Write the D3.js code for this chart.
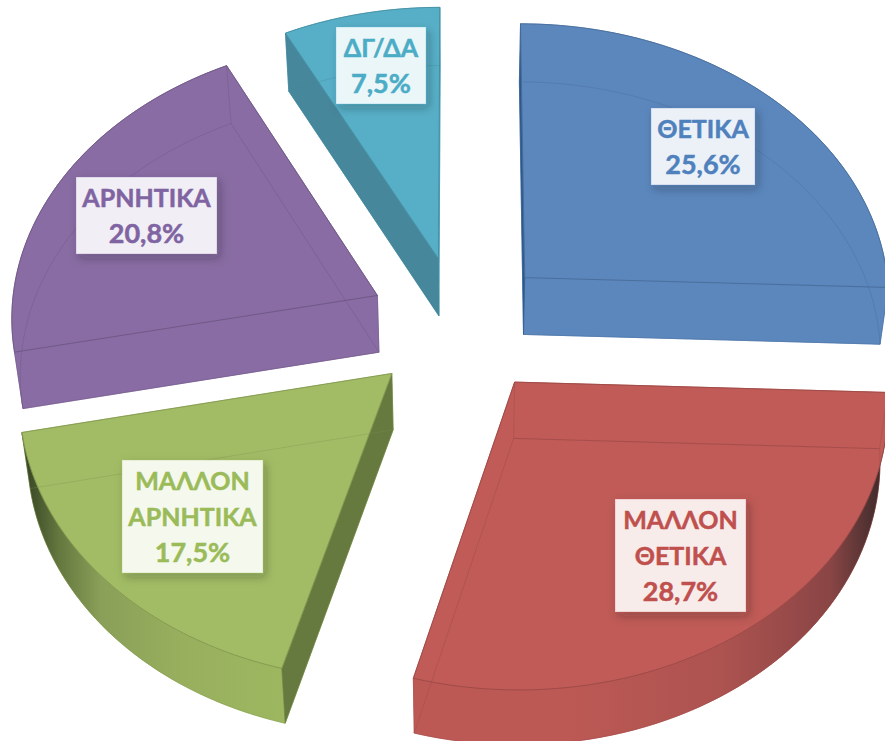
<!DOCTYPE html>
<html>
<head>
<meta charset="utf-8">
<title>Pie</title>
<script src="https://cdn.jsdelivr.net/npm/d3@7"></script>
<style>
    html, body { margin: 0; padding: 0; background: #fff; }
    svg { display: block; }
    text { font-family: "Lato", "Noto Sans", sans-serif; font-weight: 700; }
</style>
</head>
<body>
<svg id="chart" width="885" height="741"></svg>
<script>
/* Chart values */
var categories = ["ΘΕΤΙΚΑ", "ΜΑΛΛΟΝ ΘΕΤΙΚΑ", "ΜΑΛΛΟΝ ΑΡΝΗΤΙΚΑ", "ΑΡΝΗΤΙΚΑ", "ΔΓ/ΔΑ"];
var values = [25.6, 28.7, 17.5, 20.8, 7.5];

/* Styles, one per slice */
var textColors = ["#4f81bd", "#c0504d", "#9bbb59", "#8064a2", "#4bacc6"];
var faceColors = ["#5b87bd", "#c05b57", "#a2bc65", "#886ca3", "#57afc7"];
var startWallColors = ["#2c5a8e", null, "#667a40", null, "#47879b"];
var labelLines = [["ΘΕΤΙΚΑ"], ["ΜΑΛΛΟΝ", "ΘΕΤΙΚΑ"], ["ΜΑΛΛΟΝ", "ΑΡΝΗΤΙΚΑ"], ["ΑΡΝΗΤΙΚΑ"], ["ΔΓ/ΔΑ"]];
var labelCenters = [[703, 146.5], [680.5, 555.5], [192.5, 516.5], [146.5, 215.5], [381, 65.5]];
var labelSizes = [[104, 77], [131, 113], [141, 113], [141, 77], [90, 77]];

/* Perspective of the tilted pie */
var PERSPECTIVE = 0.07, EXPLODE = 0.25, VANISH_X = 460;
var x = d3.scaleLinear().domain([-1, 1]).range([459.5 - 367, 459.5 + 367]);
var y = d3.scaleLinear().domain([-1, 1]).range([325.3 - 278, 325.3 + 278]);

var svg = d3.select("#chart");
var defs = svg.append("defs");
var line = d3.line();
var formatPercent = d3.formatLocale({ decimal: ",", thousands: ".", grouping: [3], currency: ["", ""] }).format(".1f");

// Outer wall shading, only the two front slices have it
function addGradient(id, stops, x1, x2) {
    var g = defs.append("linearGradient").attr("id", id)
        .attr("gradientUnits", "userSpaceOnUse")
        .attr("x1", x1).attr("x2", x2).attr("y1", 0).attr("y2", 0);
    stops.forEach(function (s) {
        g.append("stop").attr("offset", s[0]).attr("stop-color", s[1]);
    });
}
addGradient("wallRed", [[0, "#bd5955"], [0.5, "#ad5350"], [0.84, "#8a4545"], [1, "#3d2b2b"]], 560, 882);
addGradient("wallGreen", [[0, "#3b4a26"], [0.12, "#64783f"], [0.28, "#8a9f58"], [0.6, "#98b05e"], [1, "#9db760"]], 28, 288);
var outerWalls = [null, "url(#wallRed)", "url(#wallGreen)", null, null];

var shadow = defs.append("filter").attr("id", "labelShadow")
    .attr("x", "-25%").attr("y", "-25%").attr("width", "150%").attr("height", "150%");
shadow.append("feDropShadow").attr("dx", 3).attr("dy", 4).attr("stdDeviation", 5)
    .attr("flood-color", "#222").attr("flood-opacity", 0.28);

/* Ground plane to screen */
function project(gx, gy) {
    var w = 1 - PERSPECTIVE * gy;
    return [x(gx / w), y(gy / w)];
}

/* Same point on the lower face of the pie */
function lower(p) {
    return [p[0] + (VANISH_X - p[0]) * 0.019, p[1] + 58.2 - 0.005 * p[1]];
}

var arcs = d3.pie().sort(null).startAngle(0).endAngle(2 * Math.PI).value(function (d) { return d; })(values);

arcs.forEach(function (d, i) {
    var mid = (d.startAngle + d.endAngle) / 2;
    var ox = EXPLODE * Math.sin(mid), oy = -EXPLODE * Math.cos(mid);
    var apex = project(ox, oy);
    var steps = d3.range(0, 61).map(function (k) {
        return d.startAngle + (d.endAngle - d.startAngle) * k / 60;
    });
    var rim = steps.map(function (a) {
        return project(ox + Math.sin(a), oy - Math.cos(a));
    });
    var apexLow = lower(apex);
    var rimLow = rim.map(lower);
    var first = rim[0], last = rim[rim.length - 1];
    var firstLow = rimLow[0], lastLow = rimLow[rimLow.length - 1];
    var color = faceColors[i];
    var edge = d3.color(color).darker(0.8).formatHex();
    var g = svg.append("g").attr("class", "slice");

    function shape(points, fill) {
        g.append("path").attr("d", line(points) + "Z").attr("fill", fill)
            .attr("stroke", fill).attr("stroke-width", 0.5);
    }
    function stroke(points, opacity) {
        g.append("path").attr("d", line(points)).attr("fill", "none")
            .attr("stroke", edge).attr("stroke-opacity", opacity).attr("stroke-width", 1);
    }

    // Plain walls first so the shaded ones stay on top of them
    shape([apexLow].concat(rimLow), color);
    shape([apex, last, lastLow, apexLow], color);
    if (!startWallColors[i]) shape([apex, first, firstLow, apexLow], color);
    shape(rim.concat(rimLow.slice().reverse()), outerWalls[i] || color);
    if (startWallColors[i]) shape([apex, first, firstLow, apexLow], startWallColors[i]);
    shape([apex].concat(rim), color);

    // Lower face shows through the slice
    stroke(rimLow, 0.3);
    stroke([apexLow, firstLow], i === 1 ? 0.55 : 0.35);
    stroke([apexLow, lastLow], 0.3);
    stroke([apex, apexLow], 0.3);
    stroke([first, firstLow], 0.3);
    stroke([last, lastLow], 0.3);
    // Upper face outline
    stroke(rim, 0.7);
    stroke([apex, first], 0.7);
    stroke([apex, last], 0.7);
});

/* Labels */
var LINE_HEIGHT = 36;
arcs.forEach(function (d, i) {
    var lines = labelLines[i].concat([formatPercent(values[i]) + "%"]);
    var c = labelCenters[i], size = labelSizes[i];
    var g = svg.append("g").attr("class", "label");
    g.append("title").text(categories[i]);
    g.append("rect")
        .attr("x", c[0] - size[0] / 2).attr("y", c[1] - size[1] / 2)
        .attr("width", size[0]).attr("height", size[1])
        .attr("fill", d3.interpolateRgb(textColors[i], "#fff")(0.89))
        .attr("stroke", textColors[i]).attr("stroke-opacity", 0.3)
        .attr("filter", "url(#labelShadow)");
    g.selectAll("text").data(lines).enter().append("text")
        .attr("x", c[0])
        .attr("y", function (t, k) { return c[1] + (k - (lines.length - 1) / 2) * LINE_HEIGHT; })
        .attr("dy", "0.36em")
        .attr("text-anchor", "middle")
        .attr("font-size", function (t, k) { return k === lines.length - 1 ? 27 : 25; })
        .attr("fill", textColors[i])
        .attr("stroke", textColors[i])
        .attr("stroke-width", 0.5)
        .text(function (t) { return t; });
});
</script>
</body>
</html>
